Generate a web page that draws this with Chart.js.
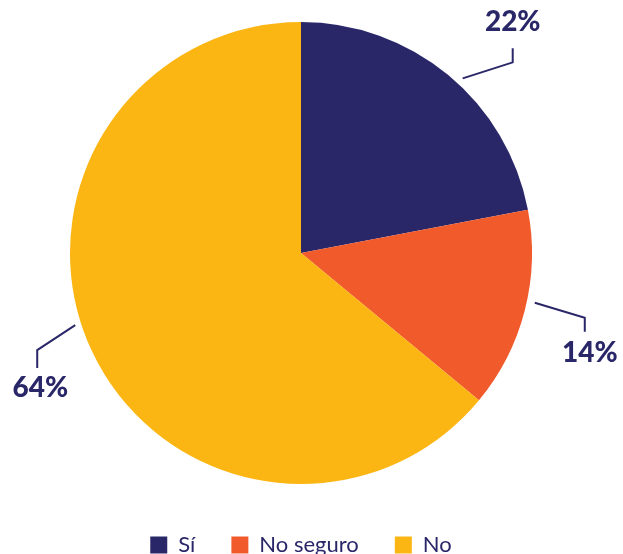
<!DOCTYPE html>
<html>
<head>
<meta charset="utf-8">
<script src="https://cdn.jsdelivr.net/npm/chart.js@4"></script>
<style>
  html, body { margin:0; padding:0; background:#fff; }
  #wrap { width:623px; height:554px; }
</style>
</head>
<body>
<div id="wrap"><canvas id="pie"></canvas></div>
<script>
// Data
const labels = ['Sí', 'No seguro', 'No'];
const values = [22, 14, 64];
const pctLabels = ['22%', '14%', '64%'];
const colors = ['#2a2769', '#f15a2b', '#fbb614'];

const NAVY = '#2a2769';

// leader line geometry per slice: angle (deg from top, clockwise) and radius of start,
// elbow offset, vertical leg, text offset
const leaders = [
  { ang: 42.8, r: 238, ex: 50, ey: -16, vy: -14, ty: -26 },
  { ang: 102,  r: 239, ex: 50, ey: 15,  vy: 14,  ty: 21 },
  { ang: 252.3, r: 237, ex: -38, ey: 25, vy: 18, ty: 20 }
];

const leaderPlugin = {
  id: 'leaders',
  afterDatasetsDraw(chart){
    const ctx = chart.ctx;
    const arcs = chart.getDatasetMeta(0).data;
    ctx.save();
    ctx.strokeStyle = NAVY;
    ctx.fillStyle = NAVY;
    ctx.lineWidth = 2;
    arcs.forEach((arc, i) => {
      const L = leaders[i];
      const a = L.ang * Math.PI / 180;
      const x0 = arc.x + L.r * Math.sin(a);
      const y0 = arc.y - L.r * Math.cos(a);
      const x1 = x0 + L.ex, y1 = y0 + L.ey;
      const y2 = y1 + L.vy;
      ctx.beginPath();
      ctx.moveTo(x0, y0);
      ctx.lineTo(x1, y1);
      ctx.lineTo(x1, y2);
      ctx.stroke();
      ctx.font = '900 28px Lato';
      ctx.textAlign = 'center';
      ctx.textBaseline = 'middle';
      const tx = x1 + (i === 2 ? 3 : (i === 1 ? 5 : 0));
      ctx.fillText(pctLabels[i], tx, y2 + L.ty);
    });
    ctx.restore();
  }
};

new Chart(document.getElementById('pie'), {
  type: 'pie',
  data: {
    labels: labels,
    datasets: [{
      data: values,
      backgroundColor: colors,
      borderWidth: 0
    }]
  },
  options: {
    responsive: true,
    maintainAspectRatio: false,
    animation: false,
    radius: 231,
    layout: { padding: { top: 8, left: 0, right: 21, bottom: -12 } },
    plugins: {
      tooltip: { enabled: false },
      legend: {
        position: 'bottom',
        labels: {
          color: NAVY,
          font: { family: 'Lato', size: 22 },
          boxWidth: 17,
          boxHeight: 17,
          padding: 36
        }
      }
    }
  },
  plugins: [leaderPlugin]
});
</script>
</body>
</html>
